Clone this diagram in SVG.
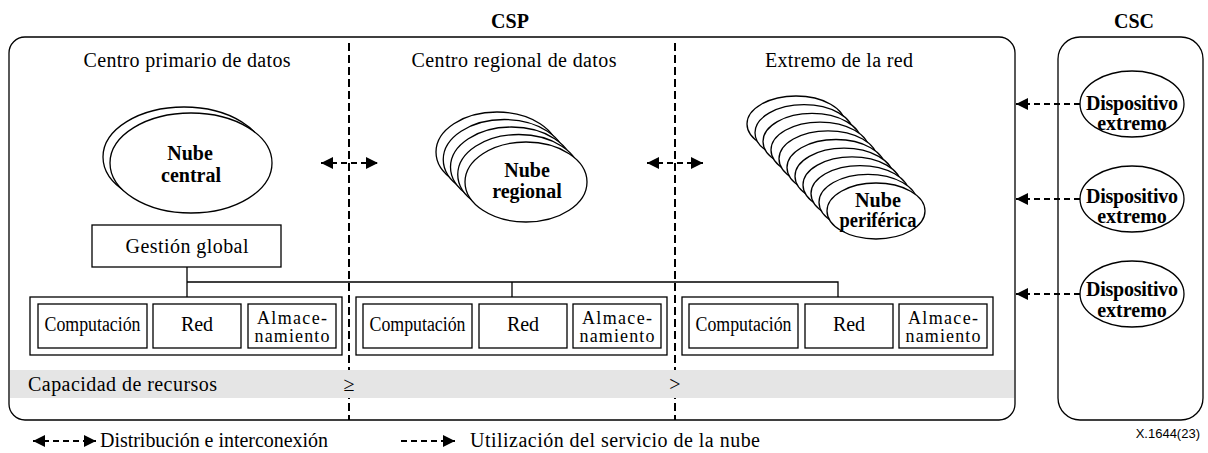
<svg xmlns="http://www.w3.org/2000/svg" width="1208" height="453" viewBox="0 0 1208 453" font-family="'Liberation Serif','Times New Roman',serif">
<style>
text{font-family:"Liberation Serif","Times New Roman",serif;fill:#000}
.r{font-size:20px}
.s{font-size:18px}
.b{font-size:20px;font-weight:bold}
.m{text-anchor:middle}
.box{fill:#fff;stroke:#000;stroke-width:1.3}
.ell{fill:#fff;stroke:#000;stroke-width:1.3}
.div{stroke:#000;stroke-width:2;stroke-dasharray:8 4;fill:none}
.dash{stroke:#000;stroke-width:2;stroke-dasharray:6 4;fill:none}
.ln{stroke:#000;stroke-width:1.3;fill:none}
</style>
<defs>
<marker id="ah" markerUnits="userSpaceOnUse" markerWidth="13" markerHeight="12" refX="12" refY="6" orient="auto-start-reverse">
<path d="M0,0 L12,6 L0,12 z" fill="#000"/>
</marker>
</defs>
<rect width="1208" height="453" fill="#fff"/>

<g id="csp">
<rect x="9" y="37" width="1006" height="383" rx="16" ry="16" class="box"/>
<text x="510" y="28" class="b m">CSP</text>
<text x="187" y="67" class="r m" textLength="207" lengthAdjust="spacing">Centro primario de datos</text>
<text x="514" y="67" class="r m" textLength="205" lengthAdjust="spacing">Centro regional de datos</text>
<text x="839" y="67" class="r m" textLength="148" lengthAdjust="spacing">Extremo de la red</text>
</g>

<g id="csc">
<rect x="1058" y="37" width="145" height="383" rx="22" ry="22" class="box"/>
<text x="1134" y="28" class="b m">CSC</text>
</g>

<g id="dividers">
<line x1="349" y1="43" x2="349" y2="420" class="div"/>
<line x1="675" y1="43" x2="675" y2="420" class="div"/>
</g>

<g id="capacidad">
<rect x="10" y="370" width="1004" height="28" fill="#e5e5e5"/>
<text x="28" y="391" class="r" textLength="189" lengthAdjust="spacing">Capacidad de recursos</text>
<text x="349" y="391" class="r m">≥</text>
<text x="675" y="391" class="r m">&gt;</text>
</g>

<g id="nube-central">
<ellipse cx="184" cy="157" rx="81" ry="50" class="ell"/>
<ellipse cx="191" cy="163" rx="81" ry="50" class="ell"/>
<text x="190" y="160" class="b m">Nube</text>
<text x="191" y="182" class="b m">central</text>
</g>

<g id="nube-regional">
<ellipse cx="497" cy="152" rx="61" ry="40" class="ell"/>
<ellipse cx="504.25" cy="159.5" rx="61" ry="40" class="ell"/>
<ellipse cx="511.5" cy="167" rx="61" ry="40" class="ell"/>
<ellipse cx="518.75" cy="174.5" rx="61" ry="40" class="ell"/>
<ellipse cx="526" cy="182" rx="61" ry="40" class="ell"/>
<text x="527" y="177" class="b m">Nube</text>
<text x="527" y="198" class="b m">regional</text>
</g>

<g id="nube-periferica">
<ellipse cx="796" cy="124" rx="49" ry="28" class="ell"/>
<ellipse cx="804" cy="132.7" rx="49" ry="28" class="ell"/>
<ellipse cx="812" cy="141.4" rx="49" ry="28" class="ell"/>
<ellipse cx="820" cy="150.1" rx="49" ry="28" class="ell"/>
<ellipse cx="828" cy="158.8" rx="49" ry="28" class="ell"/>
<ellipse cx="836" cy="167.5" rx="49" ry="28" class="ell"/>
<ellipse cx="844" cy="176.2" rx="49" ry="28" class="ell"/>
<ellipse cx="852" cy="184.9" rx="49" ry="28" class="ell"/>
<ellipse cx="860" cy="193.6" rx="49" ry="28" class="ell"/>
<ellipse cx="868" cy="202.3" rx="49" ry="28" class="ell"/>
<ellipse cx="876" cy="211" rx="49" ry="28" class="ell"/>
<text x="878" y="207" class="b m" textLength="46" lengthAdjust="spacingAndGlyphs">Nube</text>
<text x="878" y="227" class="b m" textLength="77" lengthAdjust="spacingAndGlyphs">periférica</text>
</g>

<g id="gestion-global">
<rect x="92" y="225" width="189" height="42" class="box"/>
<text x="187" y="253" class="r m" textLength="123" lengthAdjust="spacing">Gestión global</text>
</g>

<g id="recursos-1">
<rect x="30" y="297" width="312" height="58" class="box"/>
<rect x="38" y="304" width="109" height="44" class="box"/>
<rect x="153" y="304" width="88" height="44" class="box"/>
<rect x="248" y="304" width="88" height="44" class="box"/>
<text x="92.5" y="331" class="r m" textLength="96" lengthAdjust="spacingAndGlyphs">Computación</text>
<text x="197" y="331" class="r m">Red</text>
<text x="292" y="324" class="s m" textLength="70" lengthAdjust="spacing">Almace-</text>
<text x="292" y="342" class="s m" textLength="75" lengthAdjust="spacing">namiento</text>
</g>

<g id="recursos-2">
<rect x="356" y="297" width="311" height="58" class="box"/>
<rect x="363" y="304" width="109" height="44" class="box"/>
<rect x="479" y="304" width="88" height="44" class="box"/>
<rect x="573" y="304" width="88" height="44" class="box"/>
<text x="417.5" y="331" class="r m" textLength="96" lengthAdjust="spacingAndGlyphs">Computación</text>
<text x="523" y="331" class="r m">Red</text>
<text x="617" y="324" class="s m" textLength="70" lengthAdjust="spacing">Almace-</text>
<text x="617" y="342" class="s m" textLength="75" lengthAdjust="spacing">namiento</text>
</g>

<g id="recursos-3">
<rect x="682" y="297" width="311" height="58" class="box"/>
<rect x="689" y="304" width="109" height="44" class="box"/>
<rect x="805" y="304" width="88" height="44" class="box"/>
<rect x="899" y="304" width="88" height="44" class="box"/>
<text x="743.5" y="331" class="r m" textLength="96" lengthAdjust="spacingAndGlyphs">Computación</text>
<text x="849" y="331" class="r m">Red</text>
<text x="943" y="324" class="s m" textLength="70" lengthAdjust="spacing">Almace-</text>
<text x="943" y="342" class="s m" textLength="75" lengthAdjust="spacing">namiento</text>
</g>

<g id="dispositivo-1">
<ellipse cx="1132" cy="104" rx="52" ry="33" class="ell"/>
<text x="1132" y="110" class="b m" textLength="92" lengthAdjust="spacing">Dispositivo</text>
<text x="1132" y="130" class="b m">extremo</text>
</g>
<g id="dispositivo-2">
<ellipse cx="1132" cy="199" rx="52" ry="33" class="ell"/>
<text x="1132" y="203" class="b m" textLength="92" lengthAdjust="spacing">Dispositivo</text>
<text x="1132" y="223" class="b m">extremo</text>
</g>
<g id="dispositivo-3">
<ellipse cx="1132" cy="294" rx="52" ry="33" class="ell"/>
<text x="1132" y="296" class="b m" textLength="92" lengthAdjust="spacing">Dispositivo</text>
<text x="1132" y="317" class="b m">extremo</text>
</g>

<g id="connectors">
<path d="M187,267 V297 M187,282 H838 V297 M512,282 V297" class="ln"/>
<line x1="321" y1="163" x2="378" y2="163" class="dash" marker-start="url(#ah)" marker-end="url(#ah)"/>
<line x1="647" y1="163" x2="703" y2="163" class="dash" marker-start="url(#ah)" marker-end="url(#ah)"/>
<line x1="1080" y1="104" x2="1016" y2="104" class="dash" marker-end="url(#ah)"/>
<line x1="1080" y1="199" x2="1016" y2="199" class="dash" marker-end="url(#ah)"/>
<line x1="1080" y1="294" x2="1016" y2="294" class="dash" marker-end="url(#ah)"/>
</g>

<g id="legend">
<line x1="33" y1="441" x2="96" y2="441" class="dash" marker-start="url(#ah)" marker-end="url(#ah)"/>
<text x="100" y="447" class="r" textLength="228" lengthAdjust="spacing">Distribución e interconexión</text>
<line x1="401" y1="441" x2="455" y2="441" class="dash" marker-end="url(#ah)"/>
<text x="470" y="447" class="r" textLength="290" lengthAdjust="spacing">Utilización del servicio de la nube</text>
<text x="1200" y="438" style="font-family:'Liberation Sans',Arial,sans-serif;font-size:13px;text-anchor:end">X.1644(23)</text>
</g>
</svg>
